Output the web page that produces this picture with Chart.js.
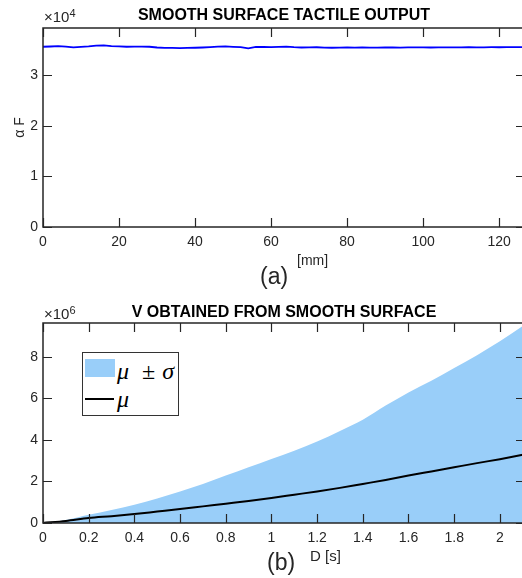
<!DOCTYPE html>
<html>
<head>
<meta charset="utf-8">
<script src="https://cdn.jsdelivr.net/npm/chart.js@4/dist/chart.umd.min.js"></script>
<style>
  html, body { margin: 0; padding: 0; background: #fff; overflow: hidden; }
  #wrap { position: relative; width: 522px; height: 578px; overflow: hidden; font-family: "Liberation Sans", Arial, sans-serif; color: #262626; }
  canvas { position: absolute; left: 0; }
  .txt { position: absolute; white-space: nowrap; line-height: 1; }
  .exp sup { font-size: 11px; position: relative; top: -5px; vertical-align: baseline; }
  #legend { position: absolute; left: 82px; top: 352px; width: 97px; height: 64px; box-sizing: border-box; border: 1.5px solid #333; background: #fff; }
  #legend .patch { position: absolute; left: 2px; top: 6px; width: 30px; height: 18px; background: rgb(153, 206, 249); }
  #legend .line { position: absolute; left: 2px; top: 45px; width: 29px; height: 2px; background: #000; }
  #legend .lab { position: absolute; left: 34px; font-family: "Liberation Serif", "DejaVu Serif", serif; font-size: 24px; line-height: 1; color: #000; }
  #legend .pm { margin-left: 13px; margin-right: 7px; }
</style>
</head>
<body>
<div id="wrap">
  <canvas id="chartA" width="530" height="290" style="top:0"></canvas>
  <canvas id="chartB" width="530" height="288" style="top:290px"></canvas>

  <div class="txt exp" style="left:44px;top:9px;font-size:15px">&times;10<sup>4</sup></div>
  <div class="txt" style="left:297px;top:253px;font-size:14px">[mm]</div>
  <div class="txt" style="left:260px;top:265px;font-size:23px">(a)</div>

  <div class="txt exp" style="left:44px;top:306px;font-size:15px">&times;10<sup>6</sup></div>
  <div class="txt" style="left:310px;top:548px;font-size:15px">D [s]</div>
  <div class="txt" style="left:267px;top:551px;font-size:23px">(b)</div>

  <div id="legend">
    <div class="patch"></div>
    <div class="lab" style="top:6px"><i>&mu;</i><span class="pm">&plusmn;</span><i>&sigma;</i></div>
    <div class="line"></div>
    <div class="lab" style="top:34px"><i>&mu;</i></div>
  </div>
</div>

<script>
  // ---- (a) tactile output ----
  var posMm = [0, 2, 4, 6, 8, 10, 12, 14, 16, 18, 20, 22, 24, 26, 28, 30, 32, 34, 36, 38,
    40, 42, 44, 46, 48, 50, 52, 54, 56, 58, 60, 62, 64, 66, 68, 70, 72, 74, 76, 78,
    80, 82, 84, 86, 88, 90, 92, 94, 96, 98, 100, 102, 104, 106, 108, 110, 112, 114, 116, 118,
    120, 122, 124, 126, 126.8];
  var forceOut = [35570, 35620, 35700, 35600, 35440, 35560, 35650, 35780, 35830, 35700,
    35640, 35570, 35600, 35580, 35570, 35420, 35360, 35330, 35310, 35350,
    35370, 35420, 35500, 35580, 35640, 35560, 35480, 35250, 35560, 35520,
    35500, 35560, 35600, 35480, 35420, 35440, 35470, 35400, 35370, 35400,
    35420, 35390, 35440, 35410, 35390, 35420, 35440, 35410, 35430, 35450,
    35440, 35420, 35450, 35460, 35440, 35450, 35470, 35450, 35460, 35480,
    35470, 35490, 35480, 35500, 35500];
  var xTicksA = [0, 20, 40, 60, 80, 100, 120];
  var yTicksA = [0, 10000, 20000, 30000];
  var limitsA = { xMax: 126.8, yMax: 39270, yScale: 1e4 };

  // ---- (b) V from smooth surface ----
  var timeS = [0, 0.1, 0.2, 0.3, 0.4, 0.5, 0.6, 0.7, 0.8, 0.9, 1.0, 1.1, 1.2, 1.3, 1.4,
    1.5, 1.6, 1.7, 1.8, 1.9, 2.0, 2.1, 2.11];
  var vUpper = [0, 0.15, 0.40, 0.63, 0.88, 1.18, 1.52, 1.88, 2.28, 2.68, 3.08, 3.48, 3.92,
    4.43, 4.97, 5.65, 6.28, 6.84, 7.45, 8.07, 8.74, 9.48, 9.56];
  var vMean = [0, 0.10, 0.24, 0.33, 0.43, 0.55, 0.67, 0.80, 0.93, 1.06, 1.20, 1.36, 1.52,
    1.69, 1.88, 2.07, 2.28, 2.48, 2.68, 2.88, 3.07, 3.28, 3.30];
  var xTicksB = [0, 0.2, 0.4, 0.6, 0.8, 1, 1.2, 1.4, 1.6, 1.8, 2];
  var yTicksB = [0, 2e6, 4e6, 6e6, 8e6];
  var limitsB = { xMax: 2.11, yMax: 9.62e6, yScale: 1e6 };

  var AXIS = '#262626';
  var FONT = '"Liberation Sans", Arial, sans-serif';
  var FILL = 'rgb(153, 206, 249)';

  function pts(xs, ys, k) {
    return xs.map(function (x, i) { return { x: x, y: ys[i] * (k || 1) }; });
  }

  // MATLAB style box with inward ticks on all four sides
  var boxAxes = {
    id: 'boxAxes',
    afterDraw: function (chart) {
      var ctx = chart.ctx, a = chart.chartArea;
      var sx = chart.scales.x, sy = chart.scales.y, L = 9;
      ctx.save();
      ctx.strokeStyle = AXIS;
      ctx.lineWidth = 1.5;
      ctx.strokeRect(a.left, a.top, a.right - a.left, a.bottom - a.top);
      ctx.lineWidth = 1.2;
      ctx.beginPath();
      sx.ticks.forEach(function (t) {
        var px = Math.round(sx.getPixelForValue(t.value)) + 0.5;
        ctx.moveTo(px, a.bottom); ctx.lineTo(px, a.bottom - L);
        ctx.moveTo(px, a.top); ctx.lineTo(px, a.top + L);
      });
      sy.ticks.forEach(function (t) {
        var py = Math.round(sy.getPixelForValue(t.value)) + 0.5;
        ctx.moveTo(a.left, py); ctx.lineTo(a.left + L, py);
        ctx.moveTo(a.right, py); ctx.lineTo(a.right - L, py);
      });
      ctx.stroke();
      ctx.restore();
    }
  };

  function makeOptions(lim, xTicks, yTicks, titleText, titlePad, xHeight, yTitle) {
    var fmt = function (v) { return String(Number(v.toFixed(1))); };
    var setTicks = function (arr) {
      return function (s) { s.ticks = arr.map(function (v) { return { value: v }; }); };
    };
    return {
      responsive: false,
      animation: false,
      devicePixelRatio: 1,
      layout: { padding: { left: 0, right: 5, top: 0, bottom: 0 } },
      plugins: {
        legend: { display: false },
        tooltip: { enabled: false },
        title: {
          display: true, text: titleText, fullSize: false, color: '#000',
          font: { family: FONT, size: 16, weight: 'bold', lineHeight: 1.2 },
          padding: titlePad
        }
      },
      scales: {
        x: {
          type: 'linear', min: 0, max: lim.xMax,
          grid: { display: false, drawTicks: false }, border: { display: false },
          afterBuildTicks: setTicks(xTicks),
          ticks: {
            maxRotation: 0, autoSkip: false,
            padding: 7, color: AXIS, font: { family: FONT, size: 14 },
            callback: fmt
          },
          afterFit: function (s) { s.height = xHeight; }
        },
        y: {
          type: 'linear', min: 0, max: lim.yMax,
          grid: { display: false, drawTicks: false }, border: { display: false },
          title: yTitle ? { display: true, text: yTitle, color: AXIS, font: { family: FONT, size: 14 }, padding: { top: 12, bottom: 0 } } : { display: false },
          afterBuildTicks: setTicks(yTicks),
          ticks: {
            padding: 5, color: AXIS, autoSkip: false,
            font: { family: FONT, size: 14 },
            callback: function (v) { return fmt(v / lim.yScale); }
          },
          afterFit: function (s) { s.width = 43; }
        }
      }
    };
  }

  new Chart(document.getElementById('chartA').getContext('2d'), {
    type: 'line',
    data: {
      datasets: [{
        data: pts(posMm, forceOut),
        borderColor: '#0000ff', borderWidth: 1.8,
        pointRadius: 0, tension: 0, fill: false
      }]
    },
    options: makeOptions(limitsA, xTicksA, yTicksA, 'SMOOTH SURFACE TACTILE OUTPUT', { top: 6, bottom: 2.8 }, 63, '\u03b1 F'),
    plugins: [boxAxes]
  });

  // first dataset is drawn on top, so the mean line goes first
  new Chart(document.getElementById('chartB').getContext('2d'), {
    type: 'line',
    data: {
      datasets: [{
        label: '\u03bc',
        data: pts(timeS, vMean, 1e6),
        borderColor: '#000', borderWidth: 2,
        pointRadius: 0, cubicInterpolationMode: 'monotone', fill: false
      }, {
        label: '\u03bc \u00b1 \u03c3',
        data: pts(timeS, vUpper, 1e6),
        borderWidth: 0, borderColor: FILL, backgroundColor: FILL,
        pointRadius: 0, cubicInterpolationMode: 'monotone', fill: 'origin'
      }]
    },
    options: makeOptions(limitsB, xTicksB, yTicksB, 'V OBTAINED FROM SMOOTH SURFACE', { top: 12.9, bottom: 0.9 }, 55, null),
    plugins: [boxAxes]
  });
</script>
</body>
</html>
